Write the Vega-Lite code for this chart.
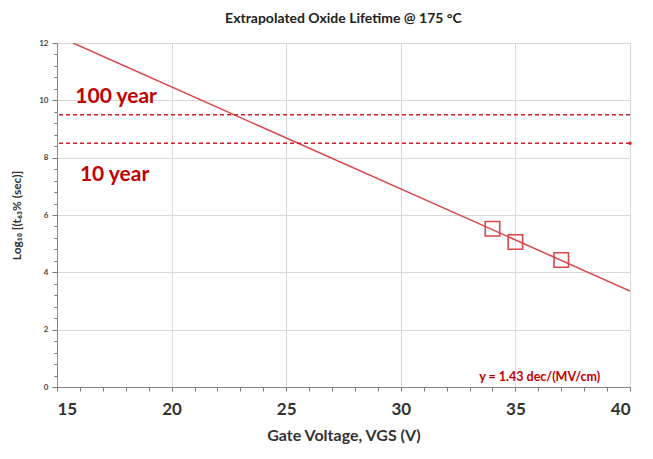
{
  "$schema": "https://vega.github.io/schema/vega-lite/v6.json",
  "autosize": {"type": "none"},
  "padding": {"left": 57, "top": 43, "right": 23, "bottom": 72},
  "width": 573,
  "height": 344,
  "background": "white",
  "title": {"text": "Extrapolated Oxide Lifetime @ 175 °C", "font": "Lato", "fontSize": 14, "fontWeight": "bold", "color": "#222", "offset": 13, "anchor": "middle"},
  "config": {"view": {"stroke": "#999", "strokeWidth": 1}, "font": "Lato"},
  "resolve": {"axis": {"x": "independent", "y": "independent"}},
  "datasets": {
    "fit": [{"v": 15.7, "l": 12}, {"v": 40, "l": 3.35}],
    "meas": [{"v": 34, "l": 5.52}, {"v": 35, "l": 5.06}, {"v": 37, "l": 4.43}],
    "limits": [{"l": 9.5, "name": "100 year"}, {"l": 8.5, "name": "10 year"}],
    "labels": [{"v": 15.8, "l": 10.1, "t": "100 year"}, {"v": 16.0, "l": 7.4, "t": "10 year"}],
    "eq": [{"v": 38.7, "l": 0.35, "t": "y = 1.43 dec/(MV/cm)"}],
    "dot": [{"v": 40, "l": 8.5}]
  },
  "layer": [
    {
      "data": {"name": "fit"},
      "mark": {"type": "line", "color": "#d9474a", "strokeWidth": 1.5, "clip": true},
      "encoding": {
        "x": {"field": "v", "type": "quantitative", "scale": {"domain": [15, 40], "nice": false, "zero": false},
          "axis": {"title": "Gate Voltage, VGS (V)", "orient": "bottom", "values": [15, 20, 25, 30, 35, 40], "grid": true, "gridColor": "#d9d9d9", "domainColor": "#888", "tickColor": "#777", "tickSize": 4, "labelFontSize": 17, "labelFontWeight": "bold", "labelColor": "#333", "labelPadding": 10, "titleFontSize": 16, "titleFontWeight": "bold", "titleColor": "#333", "titlePadding": 10}},
        "y": {"field": "l", "type": "quantitative", "scale": {"domain": [0, 12], "nice": false},
          "axis": {"title": "Log₁₀ [(t₆₃% (sec)]", "orient": "left", "values": [0, 2, 4, 6, 8, 10, 12], "grid": true, "gridColor": "#d9d9d9", "domainColor": "#888", "tickColor": "#777", "tickSize": 5, "labelFontSize": 8, "labelFontWeight": "bold", "labelColor": "#444", "labelPadding": 4, "titleFontSize": 12, "titleFontWeight": "bold", "titleColor": "#333", "titlePadding": 15}}
      }
    },
    {
      "data": {"name": "limits"},
      "mark": {"type": "rule", "color": "#d0202a", "strokeWidth": 1.5, "strokeDash": [4, 3]},
      "encoding": {"y": {"field": "l", "type": "quantitative",
        "axis": {"orient": "left", "title": null, "labels": false, "grid": false, "domain": false, "tickColor": "#777", "tickWidth": 1, "tickSize": 3,
          "values": [0.4, 0.8, 1.2, 1.6, 2.4, 2.8, 3.2, 3.6, 4.4, 4.8, 5.2, 5.6, 6.4, 6.8, 7.2, 7.6, 8.4, 8.8, 9.2, 9.6, 10.4, 10.8, 11.2, 11.6]}}}
    },
    {
      "data": {"name": "meas"},
      "mark": {"type": "point", "shape": "square", "filled": false, "color": "#d9474a", "opacity": 1, "size": 210, "strokeWidth": 1.6},
      "encoding": {
        "x": {"field": "v", "type": "quantitative",
          "axis": {"orient": "bottom", "title": null, "labels": false, "grid": false, "domain": false, "tickColor": "#777", "tickWidth": 1, "tickSize": 4,
            "values": [16, 17, 18, 19, 21, 22, 23, 24, 26, 27, 28, 29, 31, 32, 33, 34, 36, 37, 38, 39]}},
        "y": {"field": "l", "type": "quantitative", "axis": null}
      }
    },
    {
      "data": {"name": "dot"},
      "mark": {"type": "point", "shape": "circle", "filled": true, "color": "#d0202a", "opacity": 1, "size": 12, "clip": false},
      "encoding": {"x": {"field": "v", "type": "quantitative", "axis": null}, "y": {"field": "l", "type": "quantitative", "axis": null}}
    },
    {
      "data": {"name": "labels"},
      "mark": {"type": "text", "align": "left", "baseline": "middle", "color": "#c00000", "fontSize": 21, "fontWeight": "bold", "font": "Lato"},
      "encoding": {"x": {"field": "v", "type": "quantitative", "axis": null}, "y": {"field": "l", "type": "quantitative", "axis": null}, "text": {"field": "t"}}
    },
    {
      "data": {"name": "eq"},
      "mark": {"type": "text", "align": "right", "baseline": "middle", "color": "#c00000", "fontSize": 12.5, "fontWeight": "bold", "font": "Lato"},
      "encoding": {"x": {"field": "v", "type": "quantitative", "axis": null}, "y": {"field": "l", "type": "quantitative", "axis": null}, "text": {"field": "t"}}
    }
  ]
}
